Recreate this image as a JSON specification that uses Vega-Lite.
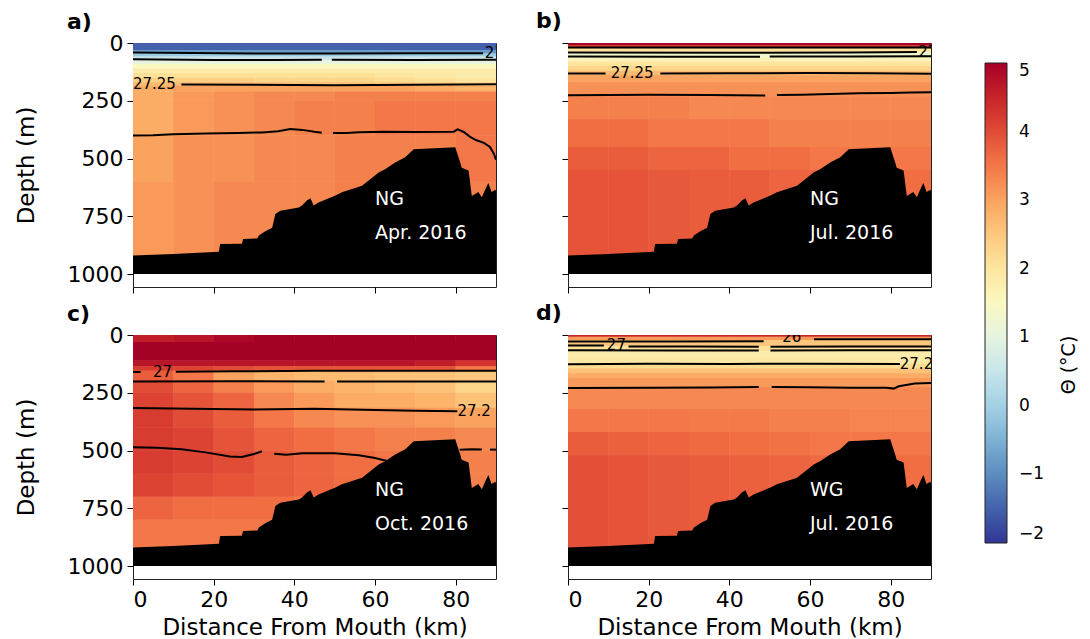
{
  "$schema": "https://vega.github.io/schema/vega-lite/v6.json",
  "autosize": {"type": "pad"},
  "padding": {"left": 14, "top": 9, "right": 0, "bottom": 0},
  "background": "white",
  "datasets": {
    "cells": [
      {"p":"a","x":0,"x2":90,"d":0,"d2":30,"t":-1.5},
      {"p":"a","x":0,"x2":90,"d":30,"d2":45,"t":-0.8},
      {"p":"a","x":0,"x2":90,"d":45,"d2":58,"t":-0.1},
      {"p":"a","x":0,"x2":90,"d":58,"d2":72,"t":0.5},
      {"p":"a","x":0,"x2":90,"d":72,"d2":90,"t":1.0},
      {"p":"a","x":0,"x2":90,"d":90,"d2":110,"t":1.5},
      {"p":"a","x":0,"x2":90,"d":110,"d2":130,"t":1.8},
      {"p":"a","x":0,"x2":10,"d":130,"d2":150,"t":2.1},{"p":"a","x":10,"x2":20,"d":130,"d2":150,"t":2.1},{"p":"a","x":20,"x2":30,"d":130,"d2":150,"t":2.1},{"p":"a","x":30,"x2":40,"d":130,"d2":150,"t":2.1},{"p":"a","x":40,"x2":50,"d":130,"d2":150,"t":2.1},{"p":"a","x":50,"x2":60,"d":130,"d2":150,"t":2.1},{"p":"a","x":60,"x2":70,"d":130,"d2":150,"t":2.0},{"p":"a","x":70,"x2":80,"d":130,"d2":150,"t":1.9},{"p":"a","x":80,"x2":90,"d":130,"d2":150,"t":1.8},
      {"p":"a","x":0,"x2":10,"d":150,"d2":170,"t":2.4},{"p":"a","x":10,"x2":20,"d":150,"d2":170,"t":2.4},{"p":"a","x":20,"x2":30,"d":150,"d2":170,"t":2.4},{"p":"a","x":30,"x2":40,"d":150,"d2":170,"t":2.3},{"p":"a","x":40,"x2":50,"d":150,"d2":170,"t":2.3},{"p":"a","x":50,"x2":60,"d":150,"d2":170,"t":2.3},{"p":"a","x":60,"x2":70,"d":150,"d2":170,"t":2.2},{"p":"a","x":70,"x2":80,"d":150,"d2":170,"t":2.1},{"p":"a","x":80,"x2":90,"d":150,"d2":170,"t":2.0},
      {"p":"a","x":0,"x2":10,"d":170,"d2":185,"t":2.7},{"p":"a","x":10,"x2":20,"d":170,"d2":185,"t":2.7},{"p":"a","x":20,"x2":30,"d":170,"d2":185,"t":2.7},{"p":"a","x":30,"x2":40,"d":170,"d2":185,"t":2.6},{"p":"a","x":40,"x2":50,"d":170,"d2":185,"t":2.6},{"p":"a","x":50,"x2":60,"d":170,"d2":185,"t":2.6},{"p":"a","x":60,"x2":70,"d":170,"d2":185,"t":2.5},{"p":"a","x":70,"x2":80,"d":170,"d2":185,"t":2.4},{"p":"a","x":80,"x2":90,"d":170,"d2":185,"t":2.3},
      {"p":"a","x":0,"x2":10,"d":185,"d2":210,"t":2.9},{"p":"a","x":10,"x2":20,"d":185,"d2":210,"t":3.0},{"p":"a","x":20,"x2":30,"d":185,"d2":210,"t":3.0},{"p":"a","x":30,"x2":40,"d":185,"d2":210,"t":3.0},{"p":"a","x":40,"x2":50,"d":185,"d2":210,"t":3.0},{"p":"a","x":50,"x2":60,"d":185,"d2":210,"t":3.0},{"p":"a","x":60,"x2":70,"d":185,"d2":210,"t":3.0},{"p":"a","x":70,"x2":80,"d":185,"d2":210,"t":2.9},{"p":"a","x":80,"x2":90,"d":185,"d2":210,"t":2.8},
      {"p":"a","x":0,"x2":10,"d":210,"d2":250,"t":2.9},{"p":"a","x":10,"x2":20,"d":210,"d2":250,"t":3.1},{"p":"a","x":20,"x2":30,"d":210,"d2":250,"t":3.2},{"p":"a","x":30,"x2":40,"d":210,"d2":250,"t":3.3},{"p":"a","x":40,"x2":50,"d":210,"d2":250,"t":3.3},{"p":"a","x":50,"x2":60,"d":210,"d2":250,"t":3.4},{"p":"a","x":60,"x2":70,"d":210,"d2":250,"t":3.4},{"p":"a","x":70,"x2":80,"d":210,"d2":250,"t":3.4},{"p":"a","x":80,"x2":90,"d":210,"d2":250,"t":3.4},
      {"p":"a","x":0,"x2":10,"d":250,"d2":400,"t":2.9},{"p":"a","x":10,"x2":20,"d":250,"d2":400,"t":3.1},{"p":"a","x":20,"x2":30,"d":250,"d2":400,"t":3.2},{"p":"a","x":30,"x2":40,"d":250,"d2":400,"t":3.3},{"p":"a","x":40,"x2":50,"d":250,"d2":400,"t":3.4},{"p":"a","x":50,"x2":60,"d":250,"d2":400,"t":3.4},{"p":"a","x":60,"x2":70,"d":250,"d2":400,"t":3.5},{"p":"a","x":70,"x2":80,"d":250,"d2":400,"t":3.5},{"p":"a","x":80,"x2":90,"d":250,"d2":400,"t":3.5},
      {"p":"a","x":0,"x2":10,"d":400,"d2":600,"t":3.0},{"p":"a","x":10,"x2":20,"d":400,"d2":600,"t":3.2},{"p":"a","x":20,"x2":30,"d":400,"d2":600,"t":3.2},{"p":"a","x":30,"x2":40,"d":400,"d2":600,"t":3.3},{"p":"a","x":40,"x2":50,"d":400,"d2":600,"t":3.3},{"p":"a","x":50,"x2":60,"d":400,"d2":600,"t":3.4},{"p":"a","x":60,"x2":70,"d":400,"d2":600,"t":3.4},{"p":"a","x":70,"x2":80,"d":400,"d2":600,"t":3.4},{"p":"a","x":80,"x2":90,"d":400,"d2":600,"t":3.5},
      {"p":"a","x":0,"x2":10,"d":600,"d2":1000,"t":3.1},{"p":"a","x":10,"x2":20,"d":600,"d2":1000,"t":3.2},{"p":"a","x":20,"x2":30,"d":600,"d2":1000,"t":3.3},{"p":"a","x":30,"x2":40,"d":600,"d2":1000,"t":3.3},{"p":"a","x":40,"x2":50,"d":600,"d2":1000,"t":3.3},{"p":"a","x":50,"x2":60,"d":600,"d2":1000,"t":3.4},{"p":"a","x":60,"x2":70,"d":600,"d2":1000,"t":3.4},{"p":"a","x":70,"x2":80,"d":600,"d2":1000,"t":3.4},{"p":"a","x":80,"x2":90,"d":600,"d2":1000,"t":3.4},

      {"p":"b","x":0,"x2":90,"d":0,"d2":10,"t":5.0},
      {"p":"b","x":0,"x2":90,"d":10,"d2":17,"t":4.2},
      {"p":"b","x":0,"x2":90,"d":17,"d2":25,"t":2.6},
      {"p":"b","x":0,"x2":90,"d":25,"d2":40,"t":2.0},
      {"p":"b","x":0,"x2":90,"d":40,"d2":62,"t":1.3},
      {"p":"b","x":0,"x2":90,"d":62,"d2":80,"t":1.6},
      {"p":"b","x":0,"x2":90,"d":80,"d2":100,"t":2.0},
      {"p":"b","x":0,"x2":90,"d":100,"d2":120,"t":2.3},
      {"p":"b","x":0,"x2":90,"d":120,"d2":140,"t":2.7},
      {"p":"b","x":0,"x2":90,"d":140,"d2":170,"t":3.0},
      {"p":"b","x":0,"x2":90,"d":170,"d2":230,"t":3.2},
      {"p":"b","x":0,"x2":10,"d":230,"d2":330,"t":3.4},{"p":"b","x":10,"x2":20,"d":230,"d2":330,"t":3.4},{"p":"b","x":20,"x2":30,"d":230,"d2":330,"t":3.4},{"p":"b","x":30,"x2":40,"d":230,"d2":330,"t":3.3},{"p":"b","x":40,"x2":50,"d":230,"d2":330,"t":3.3},{"p":"b","x":50,"x2":60,"d":230,"d2":330,"t":3.3},{"p":"b","x":60,"x2":70,"d":230,"d2":330,"t":3.3},{"p":"b","x":70,"x2":80,"d":230,"d2":330,"t":3.3},{"p":"b","x":80,"x2":90,"d":230,"d2":330,"t":3.3},
      {"p":"b","x":0,"x2":10,"d":330,"d2":450,"t":3.6},{"p":"b","x":10,"x2":20,"d":330,"d2":450,"t":3.6},{"p":"b","x":20,"x2":30,"d":330,"d2":450,"t":3.5},{"p":"b","x":30,"x2":40,"d":330,"d2":450,"t":3.5},{"p":"b","x":40,"x2":50,"d":330,"d2":450,"t":3.5},{"p":"b","x":50,"x2":60,"d":330,"d2":450,"t":3.4},{"p":"b","x":60,"x2":70,"d":330,"d2":450,"t":3.4},{"p":"b","x":70,"x2":80,"d":330,"d2":450,"t":3.4},{"p":"b","x":80,"x2":90,"d":330,"d2":450,"t":3.4},
      {"p":"b","x":0,"x2":10,"d":450,"d2":550,"t":3.8},{"p":"b","x":10,"x2":20,"d":450,"d2":550,"t":3.8},{"p":"b","x":20,"x2":30,"d":450,"d2":550,"t":3.7},{"p":"b","x":30,"x2":40,"d":450,"d2":550,"t":3.7},{"p":"b","x":40,"x2":50,"d":450,"d2":550,"t":3.6},{"p":"b","x":50,"x2":60,"d":450,"d2":550,"t":3.6},{"p":"b","x":60,"x2":70,"d":450,"d2":550,"t":3.5},{"p":"b","x":70,"x2":80,"d":450,"d2":550,"t":3.5},{"p":"b","x":80,"x2":90,"d":450,"d2":550,"t":3.5},
      {"p":"b","x":0,"x2":10,"d":550,"d2":1000,"t":3.9},{"p":"b","x":10,"x2":20,"d":550,"d2":1000,"t":3.9},{"p":"b","x":20,"x2":30,"d":550,"d2":1000,"t":3.85},{"p":"b","x":30,"x2":40,"d":550,"d2":1000,"t":3.8},{"p":"b","x":40,"x2":50,"d":550,"d2":1000,"t":3.8},{"p":"b","x":50,"x2":60,"d":550,"d2":1000,"t":3.7},{"p":"b","x":60,"x2":70,"d":550,"d2":1000,"t":3.7},{"p":"b","x":70,"x2":80,"d":550,"d2":1000,"t":3.6},{"p":"b","x":80,"x2":90,"d":550,"d2":1000,"t":3.6},

      {"p":"c","x":0,"x2":10,"d":0,"d2":30,"t":4.6},{"p":"c","x":10,"x2":20,"d":0,"d2":30,"t":4.7},{"p":"c","x":20,"x2":30,"d":0,"d2":30,"t":4.9},{"p":"c","x":30,"x2":40,"d":0,"d2":30,"t":5.0},{"p":"c","x":40,"x2":50,"d":0,"d2":30,"t":5.0},{"p":"c","x":50,"x2":60,"d":0,"d2":30,"t":5.0},{"p":"c","x":60,"x2":70,"d":0,"d2":30,"t":5.0},{"p":"c","x":70,"x2":80,"d":0,"d2":30,"t":5.0},{"p":"c","x":80,"x2":90,"d":0,"d2":30,"t":5.0},
      {"p":"c","x":0,"x2":90,"d":30,"d2":110,"t":5.0},
      {"p":"c","x":0,"x2":10,"d":110,"d2":135,"t":4.7},{"p":"c","x":10,"x2":20,"d":110,"d2":135,"t":4.7},{"p":"c","x":20,"x2":30,"d":110,"d2":135,"t":4.7},{"p":"c","x":30,"x2":40,"d":110,"d2":135,"t":4.7},{"p":"c","x":40,"x2":50,"d":110,"d2":135,"t":4.7},{"p":"c","x":50,"x2":60,"d":110,"d2":135,"t":4.7},{"p":"c","x":60,"x2":70,"d":110,"d2":135,"t":4.7},{"p":"c","x":70,"x2":80,"d":110,"d2":135,"t":4.6},{"p":"c","x":80,"x2":90,"d":110,"d2":135,"t":4.3},
      {"p":"c","x":0,"x2":10,"d":135,"d2":155,"t":4.2},{"p":"c","x":10,"x2":20,"d":135,"d2":155,"t":4.1},{"p":"c","x":20,"x2":30,"d":135,"d2":155,"t":4.0},{"p":"c","x":30,"x2":40,"d":135,"d2":155,"t":3.9},{"p":"c","x":40,"x2":50,"d":135,"d2":155,"t":3.9},{"p":"c","x":50,"x2":60,"d":135,"d2":155,"t":3.9},{"p":"c","x":60,"x2":70,"d":135,"d2":155,"t":3.9},{"p":"c","x":70,"x2":80,"d":135,"d2":155,"t":3.9},{"p":"c","x":80,"x2":90,"d":135,"d2":155,"t":3.5},
      {"p":"c","x":0,"x2":10,"d":155,"d2":200,"t":3.8},{"p":"c","x":10,"x2":20,"d":155,"d2":200,"t":3.5},{"p":"c","x":20,"x2":30,"d":155,"d2":200,"t":3.0},{"p":"c","x":30,"x2":40,"d":155,"d2":200,"t":2.8},{"p":"c","x":40,"x2":50,"d":155,"d2":200,"t":2.7},{"p":"c","x":50,"x2":60,"d":155,"d2":200,"t":2.7},{"p":"c","x":60,"x2":70,"d":155,"d2":200,"t":2.6},{"p":"c","x":70,"x2":80,"d":155,"d2":200,"t":2.6},{"p":"c","x":80,"x2":90,"d":155,"d2":200,"t":2.5},
      {"p":"c","x":0,"x2":10,"d":200,"d2":250,"t":4.0},{"p":"c","x":10,"x2":20,"d":200,"d2":250,"t":3.7},{"p":"c","x":20,"x2":30,"d":200,"d2":250,"t":3.4},{"p":"c","x":30,"x2":40,"d":200,"d2":250,"t":3.1},{"p":"c","x":40,"x2":50,"d":200,"d2":250,"t":2.9},{"p":"c","x":50,"x2":60,"d":200,"d2":250,"t":2.8},{"p":"c","x":60,"x2":70,"d":200,"d2":250,"t":2.7},{"p":"c","x":70,"x2":80,"d":200,"d2":250,"t":2.6},{"p":"c","x":80,"x2":90,"d":200,"d2":250,"t":2.3},
      {"p":"c","x":0,"x2":10,"d":250,"d2":315,"t":4.1},{"p":"c","x":10,"x2":20,"d":250,"d2":315,"t":3.9},{"p":"c","x":20,"x2":30,"d":250,"d2":315,"t":3.7},{"p":"c","x":30,"x2":40,"d":250,"d2":315,"t":3.3},{"p":"c","x":40,"x2":50,"d":250,"d2":315,"t":3.1},{"p":"c","x":50,"x2":60,"d":250,"d2":315,"t":2.9},{"p":"c","x":60,"x2":70,"d":250,"d2":315,"t":2.9},{"p":"c","x":70,"x2":80,"d":250,"d2":315,"t":2.8},{"p":"c","x":80,"x2":90,"d":250,"d2":315,"t":2.6},
      {"p":"c","x":0,"x2":10,"d":315,"d2":400,"t":4.2},{"p":"c","x":10,"x2":20,"d":315,"d2":400,"t":4.0},{"p":"c","x":20,"x2":30,"d":315,"d2":400,"t":3.8},{"p":"c","x":30,"x2":40,"d":315,"d2":400,"t":3.5},{"p":"c","x":40,"x2":50,"d":315,"d2":400,"t":3.3},{"p":"c","x":50,"x2":60,"d":315,"d2":400,"t":3.2},{"p":"c","x":60,"x2":70,"d":315,"d2":400,"t":3.2},{"p":"c","x":70,"x2":80,"d":315,"d2":400,"t":3.1},{"p":"c","x":80,"x2":90,"d":315,"d2":400,"t":3.0},
      {"p":"c","x":0,"x2":10,"d":400,"d2":500,"t":4.2},{"p":"c","x":10,"x2":20,"d":400,"d2":500,"t":4.1},{"p":"c","x":20,"x2":30,"d":400,"d2":500,"t":3.9},{"p":"c","x":30,"x2":40,"d":400,"d2":500,"t":3.7},{"p":"c","x":40,"x2":50,"d":400,"d2":500,"t":3.6},{"p":"c","x":50,"x2":60,"d":400,"d2":500,"t":3.5},{"p":"c","x":60,"x2":70,"d":400,"d2":500,"t":3.4},{"p":"c","x":70,"x2":80,"d":400,"d2":500,"t":3.4},{"p":"c","x":80,"x2":90,"d":400,"d2":500,"t":3.3},
      {"p":"c","x":0,"x2":10,"d":500,"d2":600,"t":4.2},{"p":"c","x":10,"x2":20,"d":500,"d2":600,"t":4.1},{"p":"c","x":20,"x2":30,"d":500,"d2":600,"t":4.0},{"p":"c","x":30,"x2":40,"d":500,"d2":600,"t":3.8},{"p":"c","x":40,"x2":50,"d":500,"d2":600,"t":3.7},{"p":"c","x":50,"x2":60,"d":500,"d2":600,"t":3.6},{"p":"c","x":60,"x2":70,"d":500,"d2":600,"t":3.5},{"p":"c","x":70,"x2":80,"d":500,"d2":600,"t":3.5},{"p":"c","x":80,"x2":90,"d":500,"d2":600,"t":3.4},
      {"p":"c","x":0,"x2":10,"d":600,"d2":700,"t":4.1},{"p":"c","x":10,"x2":20,"d":600,"d2":700,"t":4.0},{"p":"c","x":20,"x2":30,"d":600,"d2":700,"t":3.9},{"p":"c","x":30,"x2":40,"d":600,"d2":700,"t":3.8},{"p":"c","x":40,"x2":50,"d":600,"d2":700,"t":3.7},{"p":"c","x":50,"x2":60,"d":600,"d2":700,"t":3.6},{"p":"c","x":60,"x2":70,"d":600,"d2":700,"t":3.5},{"p":"c","x":70,"x2":80,"d":600,"d2":700,"t":3.5},{"p":"c","x":80,"x2":90,"d":600,"d2":700,"t":3.4},
      {"p":"c","x":0,"x2":10,"d":700,"d2":800,"t":3.7},{"p":"c","x":10,"x2":20,"d":700,"d2":800,"t":3.6},{"p":"c","x":20,"x2":30,"d":700,"d2":800,"t":3.6},{"p":"c","x":30,"x2":40,"d":700,"d2":800,"t":3.6},{"p":"c","x":40,"x2":50,"d":700,"d2":800,"t":3.5},{"p":"c","x":50,"x2":60,"d":700,"d2":800,"t":3.5},{"p":"c","x":60,"x2":70,"d":700,"d2":800,"t":3.5},{"p":"c","x":70,"x2":80,"d":700,"d2":800,"t":3.5},{"p":"c","x":80,"x2":90,"d":700,"d2":800,"t":3.4},
      {"p":"c","x":0,"x2":90,"d":800,"d2":1000,"t":3.5},

      {"p":"d","x":0,"x2":90,"d":0,"d2":8,"t":4.5},
      {"p":"d","x":0,"x2":90,"d":8,"d2":22,"t":3.1},
      {"p":"d","x":0,"x2":90,"d":22,"d2":48,"t":2.5},
      {"p":"d","x":0,"x2":90,"d":48,"d2":70,"t":2.1},
      {"p":"d","x":0,"x2":90,"d":70,"d2":100,"t":1.8},
      {"p":"d","x":0,"x2":90,"d":100,"d2":125,"t":1.9},
      {"p":"d","x":0,"x2":90,"d":125,"d2":145,"t":2.2},
      {"p":"d","x":0,"x2":90,"d":145,"d2":165,"t":2.6},
      {"p":"d","x":0,"x2":90,"d":165,"d2":185,"t":2.9},
      {"p":"d","x":0,"x2":90,"d":185,"d2":225,"t":3.1},
      {"p":"d","x":0,"x2":90,"d":225,"d2":320,"t":3.3},
      {"p":"d","x":0,"x2":10,"d":320,"d2":420,"t":3.5},{"p":"d","x":10,"x2":20,"d":320,"d2":420,"t":3.5},{"p":"d","x":20,"x2":30,"d":320,"d2":420,"t":3.5},{"p":"d","x":30,"x2":40,"d":320,"d2":420,"t":3.45},{"p":"d","x":40,"x2":50,"d":320,"d2":420,"t":3.45},{"p":"d","x":50,"x2":60,"d":320,"d2":420,"t":3.4},{"p":"d","x":60,"x2":70,"d":320,"d2":420,"t":3.4},{"p":"d","x":70,"x2":80,"d":320,"d2":420,"t":3.35},{"p":"d","x":80,"x2":90,"d":320,"d2":420,"t":3.35},
      {"p":"d","x":0,"x2":10,"d":420,"d2":520,"t":3.8},{"p":"d","x":10,"x2":20,"d":420,"d2":520,"t":3.75},{"p":"d","x":20,"x2":30,"d":420,"d2":520,"t":3.7},{"p":"d","x":30,"x2":40,"d":420,"d2":520,"t":3.65},{"p":"d","x":40,"x2":50,"d":420,"d2":520,"t":3.6},{"p":"d","x":50,"x2":60,"d":420,"d2":520,"t":3.55},{"p":"d","x":60,"x2":70,"d":420,"d2":520,"t":3.5},{"p":"d","x":70,"x2":80,"d":420,"d2":520,"t":3.5},{"p":"d","x":80,"x2":90,"d":420,"d2":520,"t":3.5},
      {"p":"d","x":0,"x2":10,"d":520,"d2":1000,"t":3.95},{"p":"d","x":10,"x2":20,"d":520,"d2":1000,"t":3.9},{"p":"d","x":20,"x2":30,"d":520,"d2":1000,"t":3.85},{"p":"d","x":30,"x2":40,"d":520,"d2":1000,"t":3.8},{"p":"d","x":40,"x2":50,"d":520,"d2":1000,"t":3.75},{"p":"d","x":50,"x2":60,"d":520,"d2":1000,"t":3.7},{"p":"d","x":60,"x2":70,"d":520,"d2":1000,"t":3.65},{"p":"d","x":70,"x2":80,"d":520,"d2":1000,"t":3.6},{"p":"d","x":80,"x2":90,"d":520,"d2":1000,"t":3.6}
    ],
    "contours": [
      {"p":"a","s":"a1","x":0,"d":41},{"p":"a","s":"a1","x":15,"d":43},{"p":"a","s":"a1","x":30,"d":45},{"p":"a","s":"a1","x":50,"d":45},{"p":"a","s":"a1","x":70,"d":44},{"p":"a","s":"a1","x":86.8,"d":44},
      {"p":"a","s":"a2a","x":0,"d":70},{"p":"a","s":"a2a","x":20,"d":74},{"p":"a","s":"a2a","x":35,"d":74},{"p":"a","s":"a2a","x":46.8,"d":73},
      {"p":"a","s":"a2b","x":49.3,"d":73},{"p":"a","s":"a2b","x":70,"d":74},{"p":"a","s":"a2b","x":90,"d":73},
      {"p":"a","s":"a3","x":12,"d":180},{"p":"a","s":"a3","x":30,"d":181},{"p":"a","s":"a3","x":50,"d":183},{"p":"a","s":"a3","x":70,"d":181},{"p":"a","s":"a3","x":90,"d":178},
      {"p":"a","s":"a4a","x":0,"d":400},{"p":"a","s":"a4a","x":5,"d":399},{"p":"a","s":"a4a","x":10,"d":395},{"p":"a","s":"a4a","x":18,"d":392},{"p":"a","s":"a4a","x":26,"d":389},{"p":"a","s":"a4a","x":32,"d":387},{"p":"a","s":"a4a","x":36,"d":382},{"p":"a","s":"a4a","x":39,"d":372},{"p":"a","s":"a4a","x":42,"d":376},{"p":"a","s":"a4a","x":45,"d":384},{"p":"a","s":"a4a","x":46.8,"d":388},
      {"p":"a","s":"a4b","x":49.6,"d":390},{"p":"a","s":"a4b","x":53,"d":390},{"p":"a","s":"a4b","x":56,"d":386},{"p":"a","s":"a4b","x":62,"d":384},{"p":"a","s":"a4b","x":70,"d":385},{"p":"a","s":"a4b","x":79.5,"d":384},{"p":"a","s":"a4b","x":80.5,"d":374},{"p":"a","s":"a4b","x":82,"d":385},{"p":"a","s":"a4b","x":83.5,"d":405},{"p":"a","s":"a4b","x":85,"d":420},{"p":"a","s":"a4b","x":87,"d":432},{"p":"a","s":"a4b","x":88.5,"d":450},{"p":"a","s":"a4b","x":89.5,"d":480},{"p":"a","s":"a4b","x":90,"d":505},

      {"p":"b","s":"b1","x":0,"d":19},{"p":"b","s":"b1","x":90,"d":19},
      {"p":"b","s":"b2","x":0,"d":41},{"p":"b","s":"b2","x":40,"d":42},{"p":"b","s":"b2","x":70,"d":41},{"p":"b","s":"b2","x":86.5,"d":39},
      {"p":"b","s":"b3a","x":0,"d":58},{"p":"b","s":"b3a","x":25,"d":59},{"p":"b","s":"b3a","x":47.6,"d":59},
      {"p":"b","s":"b3b","x":50,"d":58},{"p":"b","s":"b3b","x":70,"d":58},{"p":"b","s":"b3b","x":90,"d":57},
      {"p":"b","s":"b4a","x":0,"d":132},{"p":"b","s":"b4a","x":9.3,"d":132},
      {"p":"b","s":"b4b","x":22.9,"d":132},{"p":"b","s":"b4b","x":40,"d":131},{"p":"b","s":"b4b","x":60,"d":130},{"p":"b","s":"b4b","x":75,"d":131},{"p":"b","s":"b4b","x":90,"d":133},
      {"p":"b","s":"b5a","x":0,"d":226},{"p":"b","s":"b5a","x":20,"d":224},{"p":"b","s":"b5a","x":35,"d":225},{"p":"b","s":"b5a","x":48.9,"d":227},
      {"p":"b","s":"b5b","x":51.8,"d":225},{"p":"b","s":"b5b","x":58,"d":224},{"p":"b","s":"b5b","x":65,"d":221},{"p":"b","s":"b5b","x":72,"d":218},{"p":"b","s":"b5b","x":80,"d":216},{"p":"b","s":"b5b","x":85,"d":214},{"p":"b","s":"b5b","x":90,"d":213},

      {"p":"c","s":"c1a","x":0,"d":160},{"p":"c","s":"c1a","x":1.9,"d":160},
      {"p":"c","s":"c1b","x":10.6,"d":159},{"p":"c","s":"c1b","x":25,"d":157},{"p":"c","s":"c1b","x":45,"d":155},{"p":"c","s":"c1b","x":65,"d":155},{"p":"c","s":"c1b","x":90,"d":155},
      {"p":"c","s":"c2a","x":0,"d":201},{"p":"c","s":"c2a","x":25,"d":200},{"p":"c","s":"c2a","x":47.5,"d":201},
      {"p":"c","s":"c2b","x":50.6,"d":201},{"p":"c","s":"c2b","x":70,"d":201},{"p":"c","s":"c2b","x":90,"d":201},
      {"p":"c","s":"c3","x":0,"d":316},{"p":"c","s":"c3","x":15,"d":319},{"p":"c","s":"c3","x":30,"d":322},{"p":"c","s":"c3","x":45,"d":319},{"p":"c","s":"c3","x":60,"d":325},{"p":"c","s":"c3","x":70,"d":328},{"p":"c","s":"c3","x":80.4,"d":330},
      {"p":"c","s":"c4a","x":0,"d":486},{"p":"c","s":"c4a","x":6,"d":488},{"p":"c","s":"c4a","x":12,"d":494},{"p":"c","s":"c4a","x":18,"d":508},{"p":"c","s":"c4a","x":24,"d":526},{"p":"c","s":"c4a","x":27,"d":528},{"p":"c","s":"c4a","x":30,"d":515},{"p":"c","s":"c4a","x":32,"d":503},
      {"p":"c","s":"c4b","x":35,"d":514},{"p":"c","s":"c4b","x":38,"d":518},{"p":"c","s":"c4b","x":42,"d":512},{"p":"c","s":"c4b","x":50,"d":512},{"p":"c","s":"c4b","x":56,"d":520},{"p":"c","s":"c4b","x":60,"d":532},{"p":"c","s":"c4b","x":63,"d":545},{"p":"c","s":"c4b","x":66,"d":548},
      {"p":"c","s":"c4c","x":81,"d":497},{"p":"c","s":"c4c","x":84,"d":494},{"p":"c","s":"c4c","x":86.5,"d":496},
      {"p":"c","s":"c4d","x":88.5,"d":496},{"p":"c","s":"c4d","x":90,"d":496},

      {"p":"d","s":"d1a","x":0,"d":28},{"p":"d","s":"d1a","x":25,"d":28},{"p":"d","s":"d1a","x":48.5,"d":27},
      {"p":"d","s":"d1b","x":61,"d":18},{"p":"d","s":"d1b","x":75,"d":18},{"p":"d","s":"d1b","x":90,"d":18},
      {"p":"d","s":"d2a","x":0,"d":45},{"p":"d","s":"d2a","x":8.9,"d":45},
      {"p":"d","s":"d2b","x":15,"d":50},{"p":"d","s":"d2b","x":30,"d":50},{"p":"d","s":"d2b","x":47.3,"d":51},
      {"p":"d","s":"d2c","x":50.2,"d":51},{"p":"d","s":"d2c","x":70,"d":50},{"p":"d","s":"d2c","x":90,"d":50},
      {"p":"d","s":"d3a","x":0,"d":66},{"p":"d","s":"d3a","x":25,"d":67},{"p":"d","s":"d3a","x":47.3,"d":67},
      {"p":"d","s":"d3b","x":50.2,"d":67},{"p":"d","s":"d3b","x":70,"d":66},{"p":"d","s":"d3b","x":90,"d":66},
      {"p":"d","s":"d4","x":0,"d":127},{"p":"d","s":"d4","x":20,"d":124},{"p":"d","s":"d4","x":40,"d":125},{"p":"d","s":"d4","x":60,"d":124},{"p":"d","s":"d4","x":82.3,"d":125},
      {"p":"d","s":"d5a","x":0,"d":229},{"p":"d","s":"d5a","x":20,"d":228},{"p":"d","s":"d5a","x":35,"d":227},{"p":"d","s":"d5a","x":47.3,"d":225},
      {"p":"d","s":"d5b","x":50.5,"d":225},{"p":"d","s":"d5b","x":60,"d":226},{"p":"d","s":"d5b","x":70,"d":228},{"p":"d","s":"d5b","x":79,"d":228},{"p":"d","s":"d5b","x":80.7,"d":232},{"p":"d","s":"d5b","x":82,"d":222},{"p":"d","s":"d5b","x":86,"d":210},{"p":"d","s":"d5b","x":90,"d":208}
    ],
    "bathy": [
      {"x":0,"d":920},{"x":10,"d":913},{"x":21.3,"d":903},{"x":21.6,"d":870},{"x":27,"d":869},{"x":27.3,"d":848},{"x":30.8,"d":846},{"x":31.2,"d":833},{"x":32.8,"d":815},{"x":34.5,"d":800},{"x":35.3,"d":740},{"x":36.5,"d":726},{"x":41.1,"d":712},{"x":41.9,"d":703},{"x":43.1,"d":682},{"x":44,"d":672},{"x":44.8,"d":703},{"x":46,"d":690},{"x":50.2,"d":660},{"x":51.8,"d":646},{"x":56.8,"d":618},{"x":60.9,"d":560},{"x":62.5,"d":546},{"x":65,"d":517},{"x":67.5,"d":494},{"x":69.6,"d":460},{"x":79.9,"d":451},{"x":81.1,"d":516},{"x":81.5,"d":540},{"x":83.2,"d":552},{"x":84,"d":662},{"x":85.6,"d":645},{"x":86.5,"d":668},{"x":87.3,"d":635},{"x":88.1,"d":606},{"x":88.9,"d":645},{"x":89.8,"d":635},{"x":90,"d":640}
    ],
    "clabels": [
      {"p":"a","x":5.3,"d":178,"text":"27.25"},
      {"p":"a","x":89.6,"d":44,"text":"27"},
      {"p":"b","x":15.9,"d":131,"text":"27.25"},
      {"p":"b","x":89.2,"d":40,"text":"27"},
      {"p":"c","x":7.3,"d":158,"text":"27"},
      {"p":"c","x":84.6,"d":329,"text":"27.2"},
      {"p":"d","x":12,"d":45,"text":"27"},
      {"p":"d","x":55.5,"d":10,"text":"26"},
      {"p":"d","x":86.4,"d":125,"text":"27.2"}
    ],
    "tags": [
      {"p":"a","x":60,"d":674,"text":"NG"},{"p":"a","x":60,"d":821,"text":"Apr. 2016"},
      {"p":"b","x":60,"d":674,"text":"NG"},{"p":"b","x":60,"d":821,"text":"Jul. 2016"},
      {"p":"c","x":60,"d":672,"text":"NG"},{"p":"c","x":60,"d":820,"text":"Oct. 2016"},
      {"p":"d","x":60,"d":672,"text":"WG"},{"p":"d","x":60,"d":820,"text":"Jul. 2016"}
    ]
  },
  "columns": 2,
  "spacing": {"row": 48, "column": 72},
  "bounds": "flush",
  "resolve": {"scale": {"color": "shared"}},
  "concat": [
    {
      "title": {"text": "a)", "dx": -66},
      "width": 363, "height": 244,
      "encoding": {
        "x": {"field": "x", "type": "quantitative", "scale": {"domain": [0, 90], "nice": false, "zero": false}, "axis": {"values": [0, 20, 40, 60, 80], "labels": false, "title": null}},
        "y": {"field": "d", "type": "quantitative", "scale": {"domain": [0, 1056], "nice": false, "reverse": true}, "axis": {"values": [0, 250, 500, 750, 1000], "format": "d", "title": "Depth (m)"}}
      },
      "layer": [
        {"data": {"name": "cells"}, "transform": [{"filter": "datum.p === 'a'"}], "mark": {"type": "rect"},
         "encoding": {"x2": {"field": "x2"}, "y2": {"field": "d2"},
           "color": {"field": "t", "type": "quantitative", "scale": {"scheme": "redyellowblue", "reverse": true, "domain": [-2, 5], "clamp": true},
             "legend": {"type": "gradient", "orient": "none", "legendX": 852, "legendY": 20, "direction": "vertical", "gradientLength": 480, "gradientThickness": 22, "gradientStrokeColor": "#222", "gradientStrokeWidth": 1, "values": [-2, -1, 0, 1, 2, 3, 4, 5], "format": "d", "labelFontSize": 17, "labelOffset": 12, "labelColor": "black", "labelFont": "DejaVu Sans", "title": "Θ (°C)", "titleOrient": "right", "titleFontSize": 19, "titleFontWeight": "normal", "titleFont": "DejaVu Sans", "titleColor": "black", "titlePadding": 20, "titleAnchor": "middle",
               "encode": {"title": {"update": {"angle": {"value": -90}, "dx": {"value": -62}, "dy": {"value": 15}}}}}}}},
        {"data": {"name": "cells"}, "transform": [{"filter": "datum.p === 'a'"}], "mark": {"type": "rect"},
         "encoding": {"x2": {"field": "x2"}, "y2": {"field": "d2"}, "color": {"field": "t", "type": "quantitative"}}},
        {"data": {"name": "contours"}, "transform": [{"filter": "datum.p === 'a'"}], "mark": {"type": "line", "color": "black", "strokeWidth": 2, "clip": true}, "encoding": {"detail": {"field": "s"}}},
        {"data": {"name": "bathy"}, "mark": {"type": "area", "color": "black", "clip": true}, "encoding": {"y2": {"datum": 1000}}},
        {"data": {"name": "clabels"}, "transform": [{"filter": "datum.p === 'a'"}], "mark": {"type": "text", "fontSize": 15, "color": "black", "clip": true, "align": "center", "baseline": "middle"}, "encoding": {"text": {"field": "text"}}},
        {"data": {"name": "tags"}, "transform": [{"filter": "datum.p === 'a'"}], "mark": {"type": "text", "fontSize": 19, "color": "white", "align": "left", "baseline": "middle"}, "encoding": {"text": {"field": "text"}}}
      ]
    },
    {
      "title": {"text": "b)", "dx": -32, "dy": -12},
      "width": 363, "height": 244,
      "encoding": {
        "x": {"field": "x", "type": "quantitative", "scale": {"domain": [0, 90], "nice": false, "zero": false}, "axis": {"values": [0, 20, 40, 60, 80], "labels": false, "title": null}},
        "y": {"field": "d", "type": "quantitative", "scale": {"domain": [0, 1056], "nice": false, "reverse": true}, "axis": {"values": [0, 250, 500, 750, 1000], "labels": false, "title": null}}
      },
      "layer": [
        {"data": {"name": "cells"}, "transform": [{"filter": "datum.p === 'b'"}], "mark": {"type": "rect"},
         "encoding": {"x2": {"field": "x2"}, "y2": {"field": "d2"}, "color": {"field": "t", "type": "quantitative", "scale": {"scheme": "redyellowblue", "reverse": true, "domain": [-2, 5], "clamp": true}}}},
        {"data": {"name": "cells"}, "transform": [{"filter": "datum.p === 'b'"}], "mark": {"type": "rect"},
         "encoding": {"x2": {"field": "x2"}, "y2": {"field": "d2"}, "color": {"field": "t", "type": "quantitative"}}},
        {"data": {"name": "contours"}, "transform": [{"filter": "datum.p === 'b'"}], "mark": {"type": "line", "color": "black", "strokeWidth": 2, "clip": true}, "encoding": {"detail": {"field": "s"}}},
        {"data": {"name": "bathy"}, "mark": {"type": "area", "color": "black", "clip": true}, "encoding": {"y2": {"datum": 1000}}},
        {"data": {"name": "clabels"}, "transform": [{"filter": "datum.p === 'b'"}], "mark": {"type": "text", "fontSize": 15, "color": "black", "clip": true, "align": "center", "baseline": "middle"}, "encoding": {"text": {"field": "text"}}},
        {"data": {"name": "tags"}, "transform": [{"filter": "datum.p === 'b'"}], "mark": {"type": "text", "fontSize": 19, "color": "white", "align": "left", "baseline": "middle"}, "encoding": {"text": {"field": "text"}}}
      ]
    },
    {
      "title": {"text": "c)", "dx": -66},
      "width": 363, "height": 244,
      "encoding": {
        "x": {"field": "x", "type": "quantitative", "scale": {"domain": [0, 90], "nice": false, "zero": false}, "axis": {"values": [0, 20, 40, 60, 80], "title": "Distance From Mouth (km)"}},
        "y": {"field": "d", "type": "quantitative", "scale": {"domain": [0, 1056], "nice": false, "reverse": true}, "axis": {"values": [0, 250, 500, 750, 1000], "format": "d", "title": "Depth (m)"}}
      },
      "layer": [
        {"data": {"name": "cells"}, "transform": [{"filter": "datum.p === 'c'"}], "mark": {"type": "rect"},
         "encoding": {"x2": {"field": "x2"}, "y2": {"field": "d2"}, "color": {"field": "t", "type": "quantitative", "scale": {"scheme": "redyellowblue", "reverse": true, "domain": [-2, 5], "clamp": true}}}},
        {"data": {"name": "cells"}, "transform": [{"filter": "datum.p === 'c'"}], "mark": {"type": "rect"},
         "encoding": {"x2": {"field": "x2"}, "y2": {"field": "d2"}, "color": {"field": "t", "type": "quantitative"}}},
        {"data": {"name": "contours"}, "transform": [{"filter": "datum.p === 'c'"}], "mark": {"type": "line", "color": "black", "strokeWidth": 2, "clip": true}, "encoding": {"detail": {"field": "s"}}},
        {"data": {"name": "bathy"}, "mark": {"type": "area", "color": "black", "clip": true}, "encoding": {"y2": {"datum": 1000}}},
        {"data": {"name": "clabels"}, "transform": [{"filter": "datum.p === 'c'"}], "mark": {"type": "text", "fontSize": 15, "color": "black", "clip": true, "align": "center", "baseline": "middle"}, "encoding": {"text": {"field": "text"}}},
        {"data": {"name": "tags"}, "transform": [{"filter": "datum.p === 'c'"}], "mark": {"type": "text", "fontSize": 19, "color": "white", "align": "left", "baseline": "middle"}, "encoding": {"text": {"field": "text"}}}
      ]
    },
    {
      "title": {"text": "d)", "dx": -32, "dy": -12},
      "width": 363, "height": 244,
      "encoding": {
        "x": {"field": "x", "type": "quantitative", "scale": {"domain": [0, 90], "nice": false, "zero": false}, "axis": {"values": [0, 20, 40, 60, 80], "title": "Distance From Mouth (km)"}},
        "y": {"field": "d", "type": "quantitative", "scale": {"domain": [0, 1056], "nice": false, "reverse": true}, "axis": {"values": [0, 250, 500, 750, 1000], "labels": false, "title": null}}
      },
      "layer": [
        {"data": {"name": "cells"}, "transform": [{"filter": "datum.p === 'd'"}], "mark": {"type": "rect"},
         "encoding": {"x2": {"field": "x2"}, "y2": {"field": "d2"}, "color": {"field": "t", "type": "quantitative", "scale": {"scheme": "redyellowblue", "reverse": true, "domain": [-2, 5], "clamp": true}}}},
        {"data": {"name": "cells"}, "transform": [{"filter": "datum.p === 'd'"}], "mark": {"type": "rect"},
         "encoding": {"x2": {"field": "x2"}, "y2": {"field": "d2"}, "color": {"field": "t", "type": "quantitative"}}},
        {"data": {"name": "contours"}, "transform": [{"filter": "datum.p === 'd'"}], "mark": {"type": "line", "color": "black", "strokeWidth": 2, "clip": true}, "encoding": {"detail": {"field": "s"}}},
        {"data": {"name": "bathy"}, "mark": {"type": "area", "color": "black", "clip": true}, "encoding": {"y2": {"datum": 1000}}},
        {"data": {"name": "clabels"}, "transform": [{"filter": "datum.p === 'd'"}], "mark": {"type": "text", "fontSize": 15, "color": "black", "clip": true, "align": "center", "baseline": "middle"}, "encoding": {"text": {"field": "text"}}},
        {"data": {"name": "tags"}, "transform": [{"filter": "datum.p === 'd'"}], "mark": {"type": "text", "fontSize": 19, "color": "white", "align": "left", "baseline": "middle"}, "encoding": {"text": {"field": "text"}}}
      ]
    }
  ],
  "config": {
    "font": "DejaVu Sans",
    "view": {"stroke": "#222", "strokeWidth": 1},
    "axis": {"grid": false, "domain": false, "tickColor": "black", "tickSize": 6, "tickWidth": 1, "labelColor": "black", "titleColor": "black", "labelFontSize": 22, "titleFontSize": 23, "titleFontWeight": "normal", "labelFont": "DejaVu Sans", "titleFont": "DejaVu Sans", "labelPadding": 4},
    "axisX": {"titlePadding": 6},
    "axisY": {"titlePadding": 29},
    "title": {"fontSize": 22, "fontWeight": "bold", "anchor": "start", "frame": "group", "color": "black", "offset": -2, "font": "DejaVu Sans"},
    "text": {"font": "DejaVu Sans"}
  }
}
